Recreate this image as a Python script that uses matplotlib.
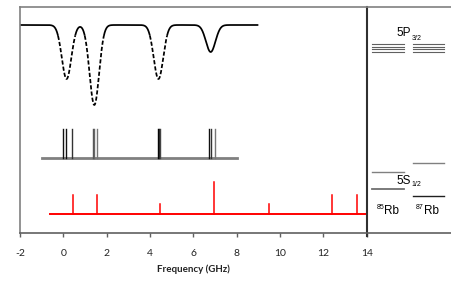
import numpy as np
import matplotlib
matplotlib.use("Agg")
import matplotlib.pyplot as plt
from matplotlib import transforms

plt.rcParams['font.family'] = ['Liberation Sans', 'DejaVu Sans']
plt.rcParams['axes.unicode_minus'] = False

# absorption spectrum (top trace)
dip_centers = [0.15, 1.43, 4.39, 6.80]     # GHz
dip_depths = [54, 80, 54, 27]
dip_width = 0.22
spec_baseline = 207.7
spec_range = (-2.0, 9.0)

# hyperfine transitions (middle sticks)
hf_lines = [0.00, 0.14, 0.41, 1.36, 1.42, 1.57, 4.36, 4.40, 4.46, 6.74, 6.83, 6.99]
hf_colors = ['#111111', '#111111', '#333333', '#555555', '#666666', '#777777',
             '#000000', '#222222', '#444444', '#111111', '#333333', '#777777']
hf_base, hf_top = 75.0, 103.7
hf_range = (-1.0, 8.0)

# comb / beat lines (red sticks)
red_lines = [0.43, 1.54, 4.46, 6.97, 9.51, 12.40, 13.55]
red_heights = [19, 19, 10, 32, 10, 19, 19]
red_base = 18.4
red_range = (-0.62, 14.0)

# level diagram
p_levels = [188.4, 186.0, 183.4, 180.7]
s_levels_85 = [60.4, 43.7]
s_levels_87 = [69.4, 36.4]

W, H = 452, 284
fig = plt.figure(figsize=(W / 100, H / 100), dpi=100)
ax = fig.add_axes([20 / W, (H - 232.7) / H, (451.7 - 20) / W, (232.7 - 7) / H])
px = 21.67
x_right = 14 + (451.7 - 366.7) / px
ax.set_xlim(-2, x_right)
ax.set_ylim(0, 225.7)


def gx(p):
    # pixel column in the right panel -> data x
    return 14 + (p - 366.7) / px


def gy(p):
    return 232.7 - p


# top spectrum
x = np.linspace(spec_range[0], spec_range[1], 2000)
y = np.full_like(x, spec_baseline)
for c, d in zip(dip_centers, dip_depths):
    y -= d * np.exp(-0.5 * ((x - c) / dip_width) ** 2)
deep = (spec_baseline - y > 11) & (x < 5.5)
dashed = deep | np.roll(deep, 1) | np.roll(deep, -1)
ax.plot(x, np.where(~deep, y, np.nan), color='black', lw=1.25, solid_capstyle='butt')
ax.plot(x, np.where(dashed, y, np.nan), color='black', lw=1.25, dashes=(2.4, 1.2))

# hyperfine sticks
ax.plot(hf_range, [hf_base, hf_base], color='#808080', lw=2)
for xl, col in zip(hf_lines, hf_colors):
    ax.plot([xl, xl], [hf_base, hf_top], color=col, lw=1)

# red sticks
ax.plot(red_range, [red_base, red_base], color='red', lw=1.4)
for xl, h in zip(red_lines, red_heights):
    ax.plot([xl, xl], [red_base, red_base + h], color='red', lw=1.1)

# divider
ax.plot([14, 14], [-3, 225.7], color='#303030', lw=1.5, clip_on=False)

# level diagram
x85 = (gx(372.3), gx(404))
x87 = (gx(413.3), gx(444.3))
for yl in p_levels:
    ax.plot(x85, [yl, yl], color='#606060', lw=0.8)
    ax.plot(x87, [yl, yl], color='#606060', lw=0.8)
ax.plot(x85, [s_levels_85[0]] * 2, color='#808080', lw=1)
ax.plot(x85, [s_levels_85[1]] * 2, color='#707070', lw=1.3)
ax.plot(x87, [s_levels_87[0]] * 2, color='#808080', lw=1)
ax.plot(x87, [s_levels_87[1]] * 2, color='#202020', lw=1)

big, small = 8.5, 5
ax.text(gx(396.5), gy(35.7), '5P', ha='left', va='baseline', fontsize=big)
ax.text(gx(411.4), gy(40), '3/2', ha='left', va='baseline', fontsize=small)
ax.text(gx(396.5), gy(184), '5S', ha='left', va='baseline', fontsize=big)
ax.text(gx(411.4), gy(186.5), '1/2', ha='left', va='baseline', fontsize=small)
ax.text(gx(376.3), gy(209.3), '85', ha='left', va='baseline', fontsize=small)
ax.text(gx(384.3), gy(214), 'Rb', ha='left', va='baseline', fontsize=big)
ax.text(gx(415.8), gy(209.3), '87', ha='left', va='baseline', fontsize=small)
ax.text(gx(423.8), gy(214), 'Rb', ha='left', va='baseline', fontsize=big)

# axes styling
for side in ['left', 'top', 'right']:
    ax.spines[side].set_color('#808080')
    ax.spines[side].set_linewidth(1.2)
ax.spines['bottom'].set_color('#606060')
ax.spines['bottom'].set_linewidth(1.2)
ax.set_yticks([])
ax.set_xticks(np.arange(-2, 15, 2))
ax.tick_params(axis='x', direction='out', length=3, width=1, color='#606060',
               labelsize=7.5, pad=8.5)
for lab in ax.get_xticklabels():
    lab.set_family(['Lato', 'DejaVu Sans'])
    lab.set_color('#222222')
trans = transforms.blended_transform_factory(ax.transData, fig.transFigure)
ax.text(6, (H - 269.5) / H, 'Frequency (GHz)', transform=trans, ha='center', va='center',
        fontsize=7, fontweight='bold', color='#222222', family=['Lato', 'DejaVu Sans'])

fig.savefig('out.png', dpi=100)
